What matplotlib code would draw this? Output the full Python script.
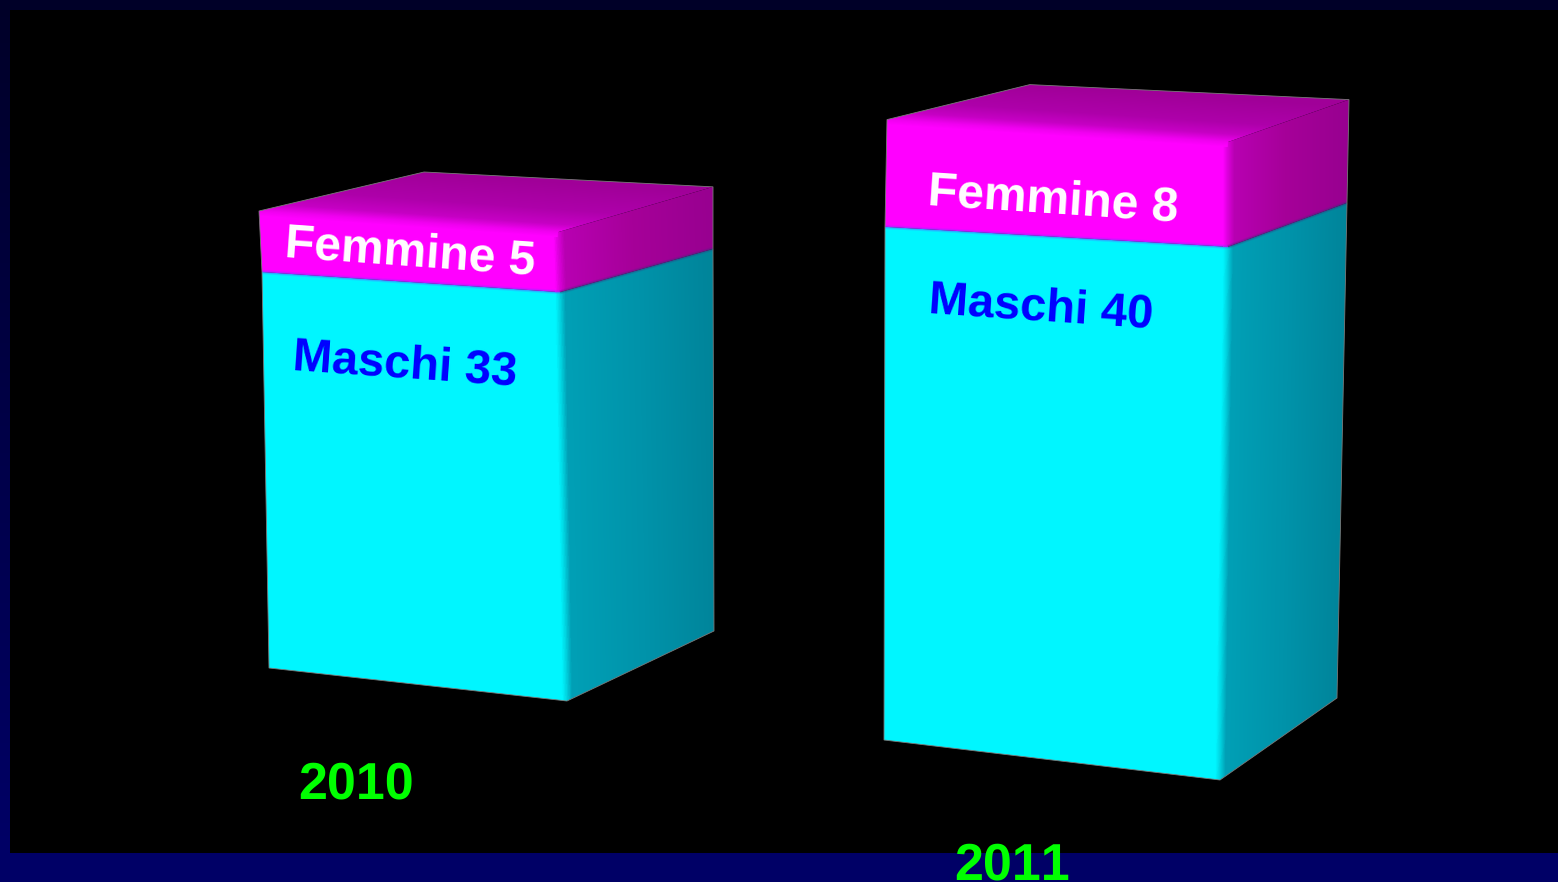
import numpy as np
import matplotlib
matplotlib.use("Agg")
import matplotlib.pyplot as plt
from matplotlib.colors import LinearSegmentedColormap
from matplotlib.patches import Polygon, Rectangle

plt.rcParams["text.hinting"] = "none"
plt.rcParams["text.hinting_factor"] = 1
plt.rcParams["text.kerning_factor"] = 16

# ---- data ----
years = ["2010", "2011"]
maschi = [33, 40]
femmine = [5, 8]
maschi_label = "Maschi"
femmine_label = "Femmine"

# ---- perspective calibration of each box (pixels) ----
# corner: base x, base y, x-drift per male unit, y-rise per male unit,
#         x-drift per female unit, y-rise per female unit
persp = [
    dict(FL=(269, 668, -0.212, 12.00, -0.60, 12.2),
         FR=(567, 701, -0.212, 12.39, -0.40, 12.0),
         BR=(714, 631, -0.030, 11.58, 0.00, 12.4),
         BL=(430, 629, -0.150, 12.00, -0.20, 12.2)),
    dict(FL=(884, 740, 0.025, 12.83, 0.25, 13.4),
         FR=(1220, 780, 0.200, 13.33, 0.00, 13.1),
         BR=(1337, 698, 0.250, 12.38, 0.25, 12.9),
         BL=(1026, 705, 0.075, 12.83, 0.10, 13.4)),
]

label_style = [
    dict(f=(284, 258, -4.1), m=(292, 369, -4.0), y=(298, 798)),
    dict(f=(927, 206, -3.8), m=(928, 313, -3.9), y=(954, 879)),
]

NAVY = "#000066"
CYAN = "#00f6ff"
MAGENTA = "#ff00ff"


def corner(c, m, f):
    x0, y0, dxm, rm, dxf, rf = c
    return np.array((x0 + dxm * m + dxf * f, y0 - rm * m - rf * f), float)


def gradient(ax, poly, origin, direction, stops, zorder):
    poly = np.asarray(poly, float)
    x0, y0 = np.floor(poly.min(axis=0)).astype(int) - 1
    x1, y1 = np.ceil(poly.max(axis=0)).astype(int) + 1
    xx, yy = np.meshgrid(np.arange(x0, x1) + .5, np.arange(y0, y1) + .5)
    d = np.asarray(direction, float)
    t = ((xx - origin[0]) * d[0] + (yy - origin[1]) * d[1]) / (d @ d)
    cmap = LinearSegmentedColormap.from_list("g", stops, N=256)
    im = ax.imshow(np.clip(t, 0, 1), cmap=cmap, vmin=0, vmax=1,
                   extent=(x0, x1, y1, y0), aspect="auto",
                   interpolation="bilinear", zorder=zorder)
    im.set_clip_path(Polygon(poly, closed=True, transform=ax.transData))


def edge_normal(a, b, target):
    e = (b - a) / np.linalg.norm(b - a)
    v = target - a
    return v - (v @ e) * e


def seam(ax, a, b, color, zorder):
    for lw, alpha in ((3.0, 0.18), (1.6, 0.3)):
        ax.plot([a[0], b[0]], [a[1], b[1]], color=color, lw=lw, alpha=alpha,
                solid_capstyle="butt", zorder=zorder)


fig = plt.figure(figsize=(15.58, 8.82), dpi=100, facecolor=NAVY)
ax = fig.add_axes([0, 0, 1, 1])
ax.set_axis_off()

# background panel with navy frame, darker towards the top
ax.add_patch(Rectangle((0, 0), 1558, 882, fc=NAVY, ec="none", zorder=0))
ax.imshow(np.linspace(0, 1, 256)[:, None],
          cmap=LinearSegmentedColormap.from_list("frame", ["#000028", NAVY]),
          extent=(0, 10, 853, 0), aspect="auto", zorder=0.4)
ax.add_patch(Rectangle((0, 0), 1558, 10, fc="#000028", ec="none", zorder=0.5))
ax.add_patch(Rectangle((10, 10), 1548, 843, fc="black", ec="none", zorder=1))

for i in range(len(years)):
    p = persp[i]
    m, f = maschi[i], femmine[i]
    FL0, FR0, BR0 = (corner(p[k], 0, 0) for k in ("FL", "FR", "BR"))
    FLm, FRm, BRm = (corner(p[k], m, 0) for k in ("FL", "FR", "BR"))
    FLf, FRf, BRf, BLf = (corner(p[k], m, f) for k in ("FL", "FR", "BR", "BL"))

    # male segment
    ax.add_patch(Polygon([FL0, FR0, FRm, FLm], closed=True, fc=CYAN, ec="none", zorder=2))
    n = edge_normal(FR0, FRm, BR0)
    unit = n / np.linalg.norm(n)
    bleed = unit * 5
    side_m = [FR0 - bleed + (0, -1), FR0, BR0, BRm, FRm, FRm - bleed]
    width = np.linalg.norm(n) + 5
    gradient(ax, side_m, FR0 - bleed, unit * width,
             [(0, CYAN), (4 / width, "#00d8e4"), (10 / width, "#00a0b6"),
              (0.55, "#0093aa"), (1, "#00859b")], 3)

    # female segment
    ax.add_patch(Polygon([FLm, FRm, FRf, FLf], closed=True, fc=MAGENTA, ec="none", zorder=4))
    n = edge_normal(FRm, FRf, BRm)
    unit = n / np.linalg.norm(n)
    bleed = unit * 5
    width = np.linalg.norm(n) + 5
    side_f = [FRm - bleed, FRm, BRm, BRf, FRf, FRf - bleed]
    gradient(ax, side_f, FRm - bleed, unit * width,
             [(0, MAGENTA), (4 / width, "#e000e0"), (11 / width, "#b800b2"),
              (0.5, "#a60099"), (1, "#980090")], 5)

    n = edge_normal(FLf, FRf, BLf)
    unit = n / np.linalg.norm(n)
    height = np.linalg.norm(n) + 5
    bleed = unit * 5
    top = [FLf, FLf - bleed + (1, 0), FRf - bleed, FRf, BRf, BLf]
    gradient(ax, top, FLf - bleed, unit * height,
             [(0, MAGENTA), (5 / height, "#f000f0"), (13 / height, "#c600c4"),
              (0.5, "#ae00aa"), (1, "#a00098")], 6)

    # soft seams between the stacked segments
    seam(ax, FLm, FRm, "#7040ff", 6.5)
    seam(ax, FRm, BRm, "#403080", 6.5)

    # silhouette
    outline = [FL0, FR0, BR0, BRm, BRf, BLf, FLf, FLm]
    ax.add_patch(Polygon(outline, closed=True, fc="none", ec="#7a7a7a", lw=0.6, zorder=7))

    # labels
    st = label_style[i]
    tkw = dict(family="Liberation Sans", weight="bold", ha="left", va="baseline",
               rotation_mode="anchor", zorder=8)
    ax.text(st["f"][0], st["f"][1], f"{femmine_label} {f}", color="white",
            fontsize=34.75, rotation=st["f"][2], **tkw)
    ax.text(st["m"][0], st["m"][1], f"{maschi_label} {m}", color="#0000ff",
            fontsize=34.1, rotation=st["m"][2], **tkw)
    ax.text(st["y"][0], st["y"][1], years[i], color="#00ff00",
            fontsize=37.3, **tkw)

ax.set_xlim(0, 1558)
ax.set_ylim(882, 0)
fig.savefig("out.png", dpi=100, facecolor=fig.get_facecolor())
